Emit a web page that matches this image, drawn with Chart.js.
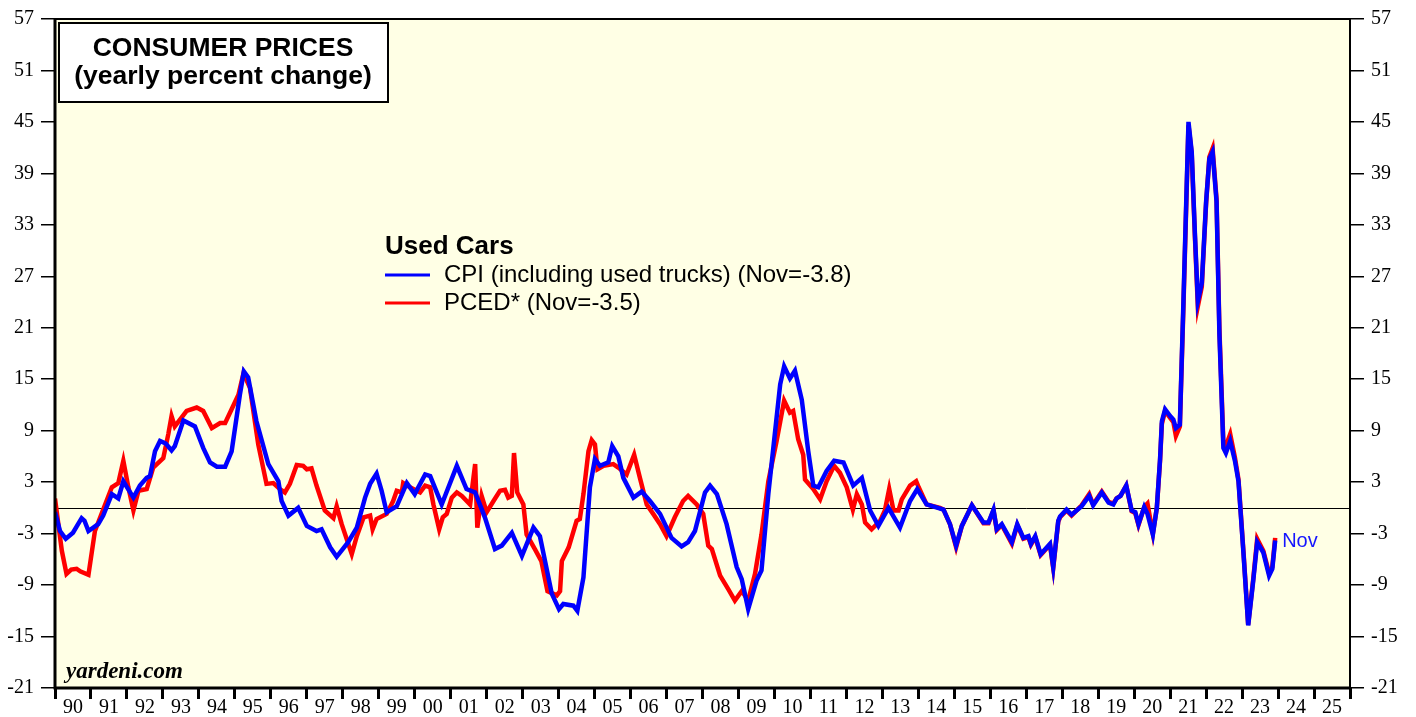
<!DOCTYPE html>
<html>
<head>
<meta charset="utf-8">
<script src="https://cdn.jsdelivr.net/npm/chart.js@4.4.1/dist/chart.umd.min.js"></script>
<style>
  html, body { margin: 0; padding: 0; background: #fff; }
  #wrap { width: 1416px; height: 717px; position: relative; }
</style>
</head>
<body>
<div id="wrap"><canvas id="chart"></canvas></div>
<script>
// Used cars, yearly percent change
const cpiYears = [
  1990.00, 1990.14, 1990.30, 1990.50, 1990.74, 1990.82, 1990.93, 1991.20, 1991.34, 1991.58,
  1991.76, 1991.90, 1992.18, 1992.36, 1992.55, 1992.64, 1992.78, 1992.92, 1993.08, 1993.24,
  1993.33, 1993.57, 1993.89, 1994.12, 1994.31, 1994.50, 1994.73, 1994.91, 1995.14, 1995.25,
  1995.37, 1995.60, 1995.93, 1996.21, 1996.30, 1996.49, 1996.76, 1997.00, 1997.27, 1997.41,
  1997.65, 1997.83, 1998.15, 1998.39, 1998.62, 1998.76, 1998.94, 1999.08, 1999.22, 1999.50,
  1999.78, 2000.00, 2000.29, 2000.43, 2000.75, 2001.17, 2001.44, 2001.68, 2001.95, 2002.23,
  2002.42, 2002.70, 2002.98, 2003.30, 2003.48, 2003.81, 2004.01, 2004.13, 2004.41, 2004.52,
  2004.69, 2004.87, 2005.01, 2005.15, 2005.38, 2005.49, 2005.66, 2005.80, 2006.08, 2006.31,
  2006.54, 2006.82, 2007.14, 2007.42, 2007.60, 2007.79, 2008.07, 2008.21, 2008.40, 2008.67,
  2008.95, 2009.09, 2009.27, 2009.50, 2009.64, 2009.83, 2010.02, 2010.16, 2010.27, 2010.43,
  2010.57, 2010.76, 2010.94, 2011.08, 2011.22, 2011.45, 2011.66, 2011.92, 2012.19, 2012.43,
  2012.66, 2012.89, 2013.17, 2013.49, 2013.77, 2013.97, 2014.23, 2014.70, 2014.88, 2015.05,
  2015.21, 2015.49, 2015.81, 2015.95, 2016.09, 2016.18, 2016.32, 2016.60, 2016.75, 2016.92,
  2017.06, 2017.13, 2017.25, 2017.40, 2017.66, 2017.75, 2017.89, 2017.94, 2018.12, 2018.26,
  2018.54, 2018.75, 2018.86, 2019.10, 2019.29, 2019.42, 2019.51, 2019.62, 2019.78, 2019.93,
  2020.03, 2020.12, 2020.28, 2020.37, 2020.52, 2020.63, 2020.72, 2020.77, 2020.86, 2021.00,
  2021.09, 2021.16, 2021.27, 2021.37, 2021.51, 2021.60, 2021.69, 2021.77, 2021.88, 2022.00,
  2022.09, 2022.18, 2022.29, 2022.37, 2022.48, 2022.55, 2022.67, 2022.80, 2022.90, 2023.04,
  2023.17, 2023.31, 2023.42, 2023.59, 2023.75, 2023.84, 2023.92
];
const cpiValues = [
  -0.5, -2.7, -3.6, -2.9, -1.2, -1.5, -2.7, -1.9, -0.9, 1.6,
  1.1, 3.1, 1.2, 2.6, 3.5, 3.7, 6.6, 7.8, 7.5, 6.7,
  7.2, 10.2, 9.5, 7.0, 5.3, 4.8, 4.8, 6.6, 13.2, 15.9,
  15.2, 10.1, 5.1, 3.1, 0.8, -0.9, 0.0, -2.1, -2.7, -2.5,
  -4.6, -5.7, -4.0, -2.3, 1.2, 2.8, 4.0, 2.0, -0.5, 0.2,
  2.9, 1.6, 3.9, 3.7, 0.4, 4.9, 2.2, 1.8, -1.1, -4.8,
  -4.4, -2.9, -5.6, -2.3, -3.3, -10.0, -11.8, -11.2, -11.4, -12.0,
  -8.1, 2.4, 5.7, 4.9, 5.3, 7.2, 6.0, 3.5, 1.2, 1.9,
  0.8, -0.7, -3.5, -4.5, -4.0, -2.7, 1.8, 2.6, 1.6, -1.9,
  -6.9, -8.3, -11.8, -8.5, -7.3, 1.6, 9.0, 14.4, 16.5, 15.1,
  16.0, 12.6, 6.6, 2.6, 2.4, 4.3, 5.5, 5.3, 2.6, 3.5,
  -0.3, -2.1, 0.0, -2.3, 0.8, 2.2, 0.4, -0.2, -1.9, -4.4,
  -2.1, 0.3, -1.7, -1.7, -0.2, -2.5, -1.9, -4.0, -1.9, -3.5,
  -3.3, -4.2, -3.3, -5.4, -4.2, -6.9, -1.5, -1.0, -0.2, -0.8,
  0.2, 1.4, 0.3, 1.8, 0.6, 0.4, 1.1, 1.4, 2.6, -0.3,
  -0.5, -1.9, 0.1, -0.7, -3.1, 0.0, 5.7, 10.1, 11.5, 10.7,
  10.3, 9.3, 9.7, 24.1, 45.0, 41.5, 31.8, 24.1, 26.2, 35.7,
  40.7, 41.5, 35.7, 20.2, 7.0, 6.4, 7.8, 5.5, 3.1, -5.4,
  -13.7, -8.5, -4.0, -5.2, -7.9, -7.1, -3.8
];

const pcedYears = [
  1990.00, 1990.19, 1990.32, 1990.45, 1990.60, 1990.70, 1990.93, 1991.11, 1991.34, 1991.58,
  1991.76, 1991.90, 1992.04, 1992.18, 1992.32, 1992.55, 1992.73, 1993.01, 1993.15, 1993.24,
  1993.33, 1993.66, 1993.94, 1994.12, 1994.36, 1994.59, 1994.73, 1994.91, 1995.10, 1995.24,
  1995.42, 1995.65, 1995.88, 1996.07, 1996.25, 1996.39, 1996.53, 1996.72, 1996.90, 1997.00,
  1997.13, 1997.27, 1997.50, 1997.74, 1997.83, 1997.97, 1998.25, 1998.39, 1998.58, 1998.76,
  1998.83, 1998.94, 1999.22, 1999.40, 1999.50, 1999.64, 1999.68, 1999.87, 2000.15, 2000.29,
  2000.43, 2000.52, 2000.68, 2000.78, 2000.89, 2001.03, 2001.17, 2001.31, 2001.54, 2001.68,
  2001.74, 2001.86, 2002.00, 2002.19, 2002.37, 2002.51, 2002.60, 2002.70, 2002.76, 2002.85,
  2003.02, 2003.11, 2003.34, 2003.52, 2003.69, 2003.95, 2004.04, 2004.09, 2004.28, 2004.50,
  2004.59, 2004.69, 2004.83, 2004.92, 2005.01, 2005.08, 2005.25, 2005.52, 2005.66, 2005.89,
  2006.10, 2006.26, 2006.45, 2006.63, 2006.82, 2007.00, 2007.23, 2007.46, 2007.60, 2007.84,
  2008.02, 2008.16, 2008.26, 2008.49, 2008.72, 2008.90, 2009.09, 2009.27, 2009.46, 2009.64,
  2009.83, 2010.06, 2010.27, 2010.43, 2010.52, 2010.66, 2010.80, 2010.85, 2011.08, 2011.27,
  2011.45, 2011.66, 2011.82, 2012.01, 2012.18, 2012.29, 2012.43, 2012.52, 2012.70, 2012.94,
  2013.07, 2013.19, 2013.31, 2013.45, 2013.54, 2013.77, 2013.94, 2014.01, 2014.23, 2014.60,
  2014.70, 2014.88, 2015.05, 2015.21, 2015.49, 2015.81, 2015.95, 2016.09, 2016.18, 2016.32,
  2016.60, 2016.75, 2016.92, 2017.06, 2017.13, 2017.25, 2017.40, 2017.66, 2017.75, 2017.89,
  2017.94, 2018.12, 2018.26, 2018.54, 2018.75, 2018.86, 2019.10, 2019.29, 2019.42, 2019.51,
  2019.62, 2019.78, 2019.93, 2020.03, 2020.12, 2020.28, 2020.37, 2020.52, 2020.63, 2020.72,
  2020.77, 2020.86, 2021.00, 2021.09, 2021.16, 2021.27, 2021.37, 2021.51, 2021.60, 2021.69,
  2021.77, 2021.88, 2022.00, 2022.09, 2022.18, 2022.29, 2022.37, 2022.48, 2022.55, 2022.67,
  2022.80, 2022.90, 2023.04, 2023.17, 2023.31, 2023.42, 2023.59, 2023.75, 2023.84, 2023.92
];
const pcedValues = [
  1.1, -5.0, -7.7, -7.2, -7.1, -7.4, -7.8, -2.7, -0.2, 2.4,
  2.9, 5.5, 2.4, -0.3, 2.0, 2.2, 4.7, 5.8, 8.6, 10.7,
  9.5, 11.3, 11.7, 11.3, 9.3, 9.9, 9.9, 11.5, 13.2, 15.7,
  14.0, 7.4, 2.8, 2.9, 2.2, 1.8, 2.8, 5.0, 4.9, 4.5,
  4.6, 2.6, -0.3, -1.2, 0.2, -1.9, -5.4, -3.3, -1.1, -0.9,
  -2.5, -1.3, -0.7, 0.8, 2.0, 1.8, 2.9, 2.4, 1.8, 2.6,
  2.4, 0.4, -2.5, -1.1, -0.7, 1.2, 1.8, 1.4, 0.4, 5.1,
  -2.3, 1.4, -0.5, 0.8, 2.0, 2.1, 1.2, 1.4, 6.4, 1.8,
  0.4, -3.1, -4.8, -6.2, -9.7, -10.2, -9.7, -6.2, -4.6, -1.5,
  -1.3, 1.6, 6.6, 7.9, 7.4, 4.5, 4.9, 5.1, 4.7, 3.9,
  6.2, 3.5, 0.4, -0.7, -1.9, -3.3, -1.1, 0.8, 1.4, 0.4,
  -0.7, -4.4, -4.8, -7.9, -9.5, -10.8, -9.7, -10.8, -7.7, -3.1,
  3.1, 7.8, 12.5, 11.1, 11.3, 8.0, 6.2, 3.3, 2.2, 1.0,
  3.1, 4.9, 4.1, 2.4, -0.2, 1.6, 0.4, -1.7, -2.5, -1.5,
  -0.3, 2.2, -0.3, -0.3, 1.0, 2.6, 3.1, 2.4, 0.4, 0.0,
  -0.2, -1.9, -4.6, -2.1, 0.3, -1.8, -1.8, -0.3, -2.6, -2.0,
  -4.2, -2.0, -3.6, -3.4, -4.3, -3.4, -5.5, -4.3, -7.0, -1.6,
  -1.1, -0.3, -0.9, 0.3, 1.6, 0.4, 1.9, 0.7, 0.5, 1.1,
  1.4, 2.6, -0.4, -0.6, -2.0, 0.1, 0.5, -3.0, 0.0, 5.5,
  9.8, 11.3, 10.5, 10.0, 8.4, 9.5, 23.5, 44.6, 41.3, 31.5,
  23.5, 25.8, 35.5, 40.9, 41.9, 36.0, 20.8, 7.6, 7.2, 8.6,
  5.9, 3.3, -5.2, -13.6, -8.3, -3.6, -5.0, -7.6, -6.9, -3.5
];

const yearLabels = ['90','91','92','93','94','95','96','97','98','99','00','01',
  '02','03','04','05','06','07','08','09','10','11','12','13','14','15','16','17',
  '18','19','20','21','22','23','24','25'];
const seriesNames = ['CPI (including used trucks) (Nov=-3.8)', 'PCED* (Nov=-3.5)'];
const seriesColors = ['#0000ff', '#ff0000'];

const firstYear = 1990;
const lastYear = 2026;

const frame = {
  id: 'frame',
  beforeDraw(chart) {
    const { ctx, chartArea: a } = chart;
    ctx.save();
    ctx.fillStyle = '#ffffe5';
    ctx.fillRect(a.left, a.top, a.right - a.left, a.bottom - a.top);
    ctx.restore();
  },
  beforeDatasetsDraw(chart) {
    // zero line
    const { ctx, chartArea: a, scales } = chart;
    const y0 = Math.round(scales.y.getPixelForValue(0)) + 0.5;
    ctx.save();
    ctx.strokeStyle = '#000';
    ctx.lineWidth = 1;
    ctx.beginPath();
    ctx.moveTo(a.left, y0);
    ctx.lineTo(a.right, y0);
    ctx.stroke();
    ctx.restore();
  },
  afterDraw(chart) {
    const { ctx, chartArea: a, scales } = chart;
    ctx.save();

    // plot border
    ctx.strokeStyle = '#000';
    ctx.lineWidth = 2;
    ctx.strokeRect(a.left, a.top, a.right - a.left, a.bottom - a.top);
    ctx.lineWidth = 3;
    ctx.beginPath();
    ctx.moveTo(a.left, a.top);
    ctx.lineTo(a.left, a.bottom);
    ctx.lineTo(a.right, a.bottom);
    ctx.stroke();

    // year labels centred inside each year
    ctx.fillStyle = '#000';
    ctx.font = '20px "Liberation Serif"';
    ctx.textAlign = 'center';
    ctx.textBaseline = 'middle';
    yearLabels.forEach((lab, i) => {
      const x = scales.x.getPixelForValue(firstYear + i + 0.5);
      ctx.fillText(lab, x, a.bottom + 20);
    });

    // title box
    ctx.fillStyle = '#fff';
    ctx.fillRect(59, 23, 329, 79);
    ctx.lineWidth = 2;
    ctx.strokeRect(59, 23, 329, 79);
    ctx.fillStyle = '#000';
    ctx.font = 'bold 26.5px "Liberation Sans"';
    ctx.fillText('CONSUMER PRICES', 223, 49);
    ctx.fillText('(yearly percent change)', 223, 77);

    // legend
    ctx.textAlign = 'left';
    ctx.font = 'bold 26px "Liberation Sans"';
    ctx.fillText('Used Cars', 385, 247);
    ctx.font = '24px "Liberation Sans"';
    seriesNames.forEach((name, i) => {
      const y = 275 + i * 28;
      ctx.strokeStyle = seriesColors[i];
      ctx.lineWidth = 3;
      ctx.beginPath();
      ctx.moveTo(385, y);
      ctx.lineTo(430, y);
      ctx.stroke();
      ctx.fillStyle = '#000';
      ctx.fillText(name, 444, y);
    });

    // last value tag
    ctx.fillStyle = '#1515ff';
    ctx.font = '20px "Liberation Sans"';
    const lastX = cpiYears[cpiYears.length - 1];
    ctx.fillText('Nov', scales.x.getPixelForValue(lastX) + 7, 541);

    // source
    ctx.fillStyle = '#000';
    ctx.font = 'italic bold 23px "Liberation Serif"';
    ctx.fillText('yardeni.com', 66, 672);

    ctx.restore();
  }
};

const yAxis = (pos, w) => ({
  position: pos,
  min: -21,
  max: 57,
  ticks: {
    stepSize: 6,
    color: '#000',
    padding: 7,
    font: { family: 'Liberation Serif', size: 20 }
  },
  grid: { drawOnChartArea: false, drawTicks: true, tickLength: 14, color: '#000', lineWidth: 1.5 },
  border: { display: false },
  afterFit(scale) { scale.width = w; }
});

new Chart(document.getElementById('chart'), {
  type: 'line',
  data: {
    datasets: [
      {
        label: seriesNames[0],
        data: cpiYears.map((x, i) => ({ x: x, y: cpiValues[i] })),
        borderColor: seriesColors[0],
        borderWidth: 4.5,
        pointRadius: 0,
        tension: 0,
        yAxisID: 'y'
      },
      {
        label: seriesNames[1],
        data: pcedYears.map((x, i) => ({ x: x, y: pcedValues[i] })),
        borderColor: seriesColors[1],
        borderWidth: 4.5,
        pointRadius: 0,
        tension: 0,
        yAxisID: 'y'
      }
    ]
  },
  options: {
    responsive: true,
    maintainAspectRatio: false,
    animation: false,
    layout: { padding: { top: 15, left: 0, right: 0, bottom: 0 } },
    plugins: { legend: { display: false }, tooltip: { enabled: false } },
    scales: {
      x: {
        type: 'linear',
        min: firstYear,
        max: lastYear,
        afterBuildTicks(scale) {
          const t = [];
          for (let v = firstYear; v <= lastYear; v++) t.push({ value: v });
          scale.ticks = t;
        },
        ticks: { display: false },
        grid: { drawOnChartArea: false, drawTicks: true, tickLength: 11, color: '#000', lineWidth: 3 },
        border: { display: false },
        afterFit(scale) { scale.height = 29; }
      },
      y: yAxis('left', 55),
      y2: yAxis('right', 66)
    }
  },
  plugins: [frame]
});
</script>
</body>
</html>
